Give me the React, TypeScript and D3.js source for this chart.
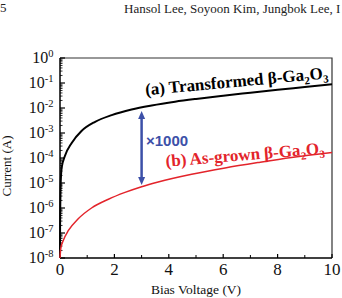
import React from 'react';
import * as d3 from 'd3';

// values
const transformedV = [0, 0.003, 0.01, 0.02, 0.06, 0.18, 0.43, 0.79, 1.29, 1.9, 2.63, 3.37, 4.23, 5.0, 6.0, 7.0, 8.0, 9.0, 10.0];
const transformedI = [1e-8, 1.6e-7, 1.3e-6, 6.3e-6, 4e-5, 1.2e-4, 4e-4, 1.2e-3, 2.8e-3, 5.2e-3, 8.7e-3, 1.26e-2, 1.78e-2, 2.3e-2, 3.1e-2, 4.1e-2, 5.4e-2, 6.9e-2, 8.9e-2];

const asGrownV = [0, 0.03, 0.12, 0.31, 0.67, 1.16, 1.78, 2.39, 3.0, 3.61, 4.84, 6.07, 7.29, 8.51, 10];
const asGrownI = [1e-8, 2.5e-8, 5e-8, 1.26e-7, 3.7e-7, 1e-6, 2.24e-6, 4.2e-6, 7.1e-6, 1.1e-5, 2.24e-5, 4e-5, 6.6e-5, 1.05e-4, 1.66e-4];

const xTicks = [0, 2, 4, 6, 8, 10];
const xMinorTicks = [1, 3, 5, 7, 9];
const yExponents = [0, -1, -2, -3, -4, -5, -6, -7, -8];

// x1000 arrow (voltage, top current, bottom current)
const arrowV = 3.0;
const arrowTop = 7.6e-3;
const arrowBottom = 8.3e-6;

const W = 342, H = 298;
const left = 60, right = 332, top = 58, bottom = 258;
const serif = '"Liberation Serif", "DejaVu Serif", "Times New Roman", serif';
const sans = '"Liberation Sans", Arial, sans-serif';

export default function App() {
  const x = d3.scaleLinear().domain([0, 10]).range([left, right]);
  const y = d3.scaleLog().domain([1e-8, 1]).range([bottom, top]);

  const line = d3.line<[number, number]>()
    .x(d => x(d[0]))
    .y(d => y(d[1]))
    .curve(d3.curveMonotoneX);

  const blackPath = line(transformedV.map((v, i) => [v, transformedI[i]]));
  const redPath = line(asGrownV.map((v, i) => [v, asGrownI[i]]));

  const minor: number[] = [];
  for (let e = -8; e < 0; e++) for (let k = 2; k <= 9; k++) minor.push(k * Math.pow(10, e));

  const ax = x(arrowV), ay1 = y(arrowTop), ay2 = y(arrowBottom);
  const blue = '#3c50a8';
  const tf = { fontFamily: serif };

  return (
    <svg width={W} height={H} style={{ position: 'absolute', left: 0, top: 0, background: '#fff' }}>
      <text x={0} y={12} style={tf} fontSize={13} fill="#222">5</text>
      <text x={124} y={12.5} style={tf} fontSize={13} fill="#222">Hansol Lee, Soyoon Kim, Jungbok Lee, I</text>

      {/* frame */}
      <path d={`M${left},${top}H${right}V${bottom}`} fill="none" stroke="#333" strokeWidth={1.2} />
      <line x1={left} x2={left} y1={top} y2={bottom} stroke="#000" strokeWidth={1.5} />
      <line x1={left} x2={right} y1={bottom} y2={bottom} stroke="#000" strokeWidth={1.5} />

      {/* y ticks */}
      {yExponents.map(e => (
        <line key={`ym${e}`} x1={left} x2={left + 5} y1={y(Math.pow(10, e))} y2={y(Math.pow(10, e))} stroke="#000" strokeWidth={1.2} />
      ))}
      {minor.map((v, i) => (
        <line key={`yn${i}`} x1={left} x2={left + 2.5} y1={y(v)} y2={y(v)} stroke="#000" strokeWidth={0.8} />
      ))}
      {yExponents.map(e => (
        <text key={`yl${e}`} x={53.5} y={y(Math.pow(10, e)) + 5.3} textAnchor="end" style={tf} fontSize={16} fill="#111">
          10<tspan fontSize={10.5} dy={-6.3}>{e}</tspan>
        </text>
      ))}

      {/* x ticks */}
      {xTicks.map(t => (
        <line key={`xm${t}`} x1={x(t)} x2={x(t)} y1={bottom} y2={bottom - 4} stroke="#000" strokeWidth={1.2} />
      ))}
      {xMinorTicks.map(t => (
        <line key={`xn${t}`} x1={x(t)} x2={x(t)} y1={bottom} y2={bottom - 3} stroke="#000" strokeWidth={1} />
      ))}
      {xTicks.map(t => (
        <text key={`xl${t}`} x={x(t)} y={275} textAnchor="middle" style={tf} fontSize={17} fill="#111">{t}</text>
      ))}

      <text x={196} y={294} textAnchor="middle" style={tf} fontSize={13.5} fill="#111">Bias Voltage (V)</text>
      <text transform="translate(11,166) rotate(-90)" textAnchor="middle" style={tf} fontSize={13} fill="#111">Current (A)</text>

      {/* curves */}
      <path d={blackPath ?? ''} fill="none" stroke="#000" strokeWidth={2} />
      <path d={redPath ?? ''} fill="none" stroke="#e3242b" strokeWidth={1.5} />

      {/* arrow */}
      <line x1={ax} x2={ax} y1={ay1 + 5} y2={ay2 - 5} stroke={blue} strokeWidth={2.5} />
      <path d={`M${ax},${ay1}L${ax - 3.5},${ay1 + 8}L${ax + 3.5},${ay1 + 8}Z`} fill={blue} />
      <path d={`M${ax},${ay2}L${ax - 3.5},${ay2 - 8}L${ax + 3.5},${ay2 - 8}Z`} fill={blue} />
      <text x={146} y={145.5} style={{ fontFamily: sans }} fontWeight="bold" fontSize={15} fill={blue}>×1000</text>

      {/* labels */}
      <text transform={`translate(${x(3.15)},${y(Math.pow(10, -1.49))}) rotate(-5.3)`} style={tf} fontWeight="bold" fontSize={17} fill="#000">
        (a) Transformed β-Ga<tspan fontSize={11} dy={4}>2</tspan><tspan dy={-4}>O</tspan><tspan fontSize={11} dy={4}>3</tspan>
      </text>
      <text transform={`translate(${x(3.9)},${y(Math.pow(10, -4.35))}) rotate(-4.7)`} style={tf} fontWeight="bold" fontSize={17} fill="#e3242b">
        (b) As-grown β-Ga<tspan fontSize={11} dy={4}>2</tspan><tspan dy={-4}>O</tspan><tspan fontSize={11} dy={4}>3</tspan>
      </text>
    </svg>
  );
}
